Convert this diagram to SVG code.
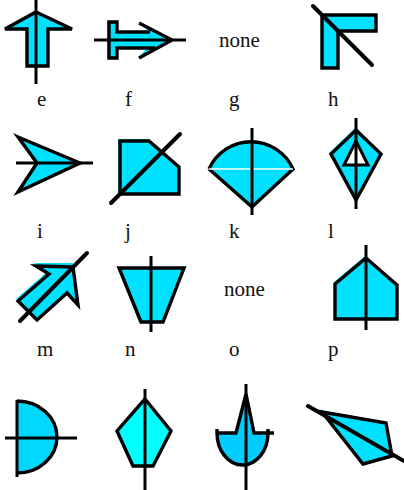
<svg xmlns="http://www.w3.org/2000/svg" width="404" height="490" viewBox="0 0 404 490">
<style>
.f{fill:#00e1ff;stroke:none}
.s{fill:none;stroke:#000;stroke-width:3.4;stroke-linejoin:miter}
.l{fill:none;stroke:#000;stroke-width:3;stroke-linecap:butt}
.d{fill:none;stroke:#000;stroke-width:4;stroke-linecap:round}
text{font-family:"Liberation Serif","Times New Roman",serif;font-size:21px;fill:#111}
</style>
<rect width="404" height="490" fill="#fff"/>
<g id="shape-e"><polygon class="f" points="35,11 71,28 47,28 47,65 26,65 26,28 4,28"/><polygon class="s" points="36,12 72,29 48,29 48,66 27,66 27,29 5,29"/><text x="37" y="106">e</text></g>
<g id="shape-f"><path class="f" d="M107,21H117V31H148L139,22L172,40L139,57L147,48H117V58H107Z"/><path class="s" d="M139,23L172,40L139,58M150,32H117V22H109V58H117V48H155"/><text x="125" y="106">f</text></g>
<g id="shape-g"><text x="219" y="47">none</text><text x="229" y="106">g</text></g>
<g id="shape-h"><polygon class="f" points="321,14 376,14 376,31 338,31 338,68 321,68"/><polygon class="s" points="322,15 376,15 376,31 338,31 338,68 322,68"/><text x="328" y="106">h</text></g>
<g id="shape-i"><polygon class="f" points="16,135 80,162 17,193 36,163"/><polygon class="s" points="18,137 80,163 18,192 37,163"/><text x="37" y="238">i</text></g>
<g id="shape-j"><polygon class="f" points="118,139 149,139 179,167 179,194 118,194"/><polygon class="s" points="120,141 149,141 179,167 179,194 120,194"/><text x="125" y="238">j</text></g>
<g id="shape-k"><path class="f" d="M209,169A46,46 0 0 1 293,169L252,207Z"/><path class="s" d="M209,169A46,46 0 0 1 293,169L252,207L209,169"/><line x1="209" y1="169" x2="293" y2="169" stroke="#fff" stroke-width="1.5"/><text x="229" y="238">k</text></g>
<g id="shape-l"><polygon class="f" points="355,128 381,153 356,200 329,153"/><polygon class="s" points="356,130 381,154 356,200 331,154"/><polygon points="356,141 368,165 344,165" fill="#fff" stroke="#000" stroke-width="3"/><text x="328" y="238">l</text></g>
<g id="shape-m"><polygon class="f" points="34,263 73,263 78,305 67,293 37,320 16,299 47,272"/><polygon class="s" points="36,266 73,267 78,305 67,293 37,320 18,301 49,274"/><text x="37" y="356">m</text></g>
<g id="shape-n"><polygon class="f" points="118,267 184,267 163,322 139,322"/><polygon class="s" points="119,268 184,268 163,322 141,322"/><text x="125" y="356">n</text></g>
<g id="shape-o"><text x="224" y="296">none</text><text x="229" y="356">o</text></g>
<g id="shape-p"><polygon class="f" points="365,256 397,284 397,319 334,319 334,282"/><polygon class="s" points="366,258 397,285 397,319 335,319 335,284"/><text x="328" y="356">p</text></g>
<g id="shape-q"><path d="M17,401A40,36 0 0 1 17,473Z" fill="#00d8ff"/><path class="s" d="M17,401A40,36 0 0 1 17,473"/></g>
<g id="shape-r"><polygon points="145,399 171,431 153,466 133,466 117,431" fill="#0ff"/><polygon class="s" points="145,399 171,431 153,466 133,466 117,431"/></g>
<g id="shape-s"><path d="M217,430V433H236L246,394L254,433H268A25,32 0 0 1 217,433Z" fill="#00ccff"/><path class="s" d="M217,429V433H236L246,394L254,433H274M268,429V433A25.500,32 0 0 1 217,433"/></g>
<g id="shape-t"><polygon class="f" points="320,410 386,422 392,456 362,465"/><polygon class="s" points="322,412 386,423 392,456 363,464"/></g>
<g id="connectors">
<line class="l" x1="36" y1="0" x2="36" y2="84"/>
<line class="l" x1="94" y1="40" x2="186" y2="40"/>
<line class="d" x1="313" y1="6" x2="372" y2="65"/>
<line class="l" x1="16" y1="163" x2="93" y2="163"/>
<line class="d" x1="111" y1="203" x2="180" y2="134"/>
<line class="l" x1="252" y1="128" x2="252" y2="215"/>
<line class="l" x1="356" y1="118" x2="356" y2="209"/>
<line class="d" x1="20" y1="321" x2="87" y2="253"/>
<line class="l" x1="151" y1="256" x2="151" y2="332"/>
<line class="l" x1="366" y1="245" x2="366" y2="330"/>
<line class="l" x1="17" y1="400" x2="17" y2="477"/>
<line class="l" x1="5" y1="438" x2="77" y2="438"/>
<line class="l" x1="145" y1="389" x2="145" y2="490"/>
<line class="l" x1="246" y1="384" x2="246" y2="490"/>
<line class="d" x1="308" y1="406" x2="404" y2="461"/>
</g>
</svg>
